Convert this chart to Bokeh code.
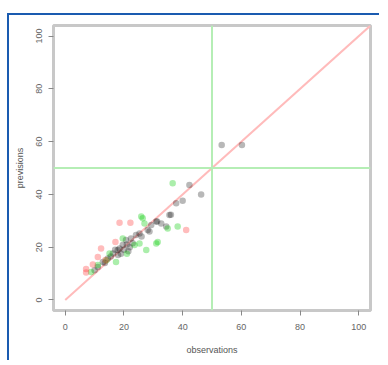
from bokeh.plotting import figure
from bokeh.models import Span, FixedTicker
from bokeh.embed import file_html
from bokeh.resources import INLINE

# Data
black_obs = [53.3, 60.2, 42.3, 46.3, 40.0, 37.8, 35.5, 36.0, 31.0, 28.1, 25.3, 22.4, 19.6, 17.9,
             16.2, 14.5, 12.8, 11.1, 10.0, 20.7, 24.1, 29.3, 32.7, 34.4, 28.7, 31.3, 18.5, 21.0,
             19.0, 23.0, 15.5, 17.0, 20.0, 22.0, 26.0, 13.5, 18.0, 21.5]
black_prev = [58.7, 58.7, 43.6, 40.0, 37.6, 36.6, 32.2, 32.3, 29.7, 26.5, 25.2, 23.3, 20.8, 18.9,
              17.6, 15.7, 14.4, 12.5, 11.3, 22.7, 24.6, 28.4, 29.0, 27.8, 25.9, 29.7, 19.5, 21.0,
              17.5, 21.5, 16.5, 19.0, 19.0, 20.0, 24.0, 14.0, 17.0, 18.5]
green_obs = [36.6, 25.9, 27.0, 19.6, 15.1, 11.1, 8.8, 27.6, 31.5, 34.9, 38.3, 17.3, 23.6, 25.3,
             31.0, 26.4, 21.0, 14.0]
green_prev = [44.2, 31.6, 29.0, 23.3, 17.6, 13.2, 10.6, 18.9, 22.0, 27.1, 27.8, 14.4, 20.8, 21.4,
              21.4, 31.0, 17.5, 15.0]
red_obs = [18.5, 22.2, 17.1, 12.2, 11.1, 9.4, 7.1, 7.1, 13.7, 41.2]
red_prev = [29.3, 29.3, 22.0, 19.5, 16.3, 13.4, 11.7, 10.4, 15.1, 26.5]
diag = [0, 104]
thresh = 50
ticks = [0, 20, 40, 60, 80, 100]

p = figure(width=372, height=347, x_range=(-4, 104), y_range=(-4, 104),
           output_backend="svg", toolbar_location=None,
           min_border_left=44, min_border_right=11, min_border_top=10, min_border_bottom=52)
p.margin = (13, 0, 0, 7)
p.styles = {"border-top": "2px solid #1a5bb0", "border-left": "2px solid #1a5bb0"}
p.grid.visible = False
p.outline_line_color = "#c8c8c8"
p.outline_line_width = 3
p.background_fill_color = "white"
p.border_fill_color = "white"

for ax in (p.xaxis[0], p.yaxis[0]):
    ax.ticker = FixedTicker(ticks=ticks)
    ax.axis_line_color = "#c8c8c8"
    ax.axis_line_width = 1
    ax.major_tick_line_color = "#888888"
    ax.major_tick_in = 0
    ax.major_tick_out = 5
    ax.minor_tick_line_color = None
    ax.major_label_text_font = "Liberation Sans"
    ax.major_label_text_font_size = "9px"
    ax.major_label_text_color = "#666666"
    ax.axis_label_text_font = "Liberation Sans"
    ax.axis_label_text_font_size = "9px"
    ax.axis_label_text_font_style = "normal"
    ax.axis_label_text_color = "#555555"

p.xaxis.axis_label = "observations"
p.yaxis.axis_label = "previsions"
p.xaxis.major_label_standoff = 8
p.xaxis.axis_label_standoff = 12
p.yaxis.major_label_orientation = "vertical"
p.yaxis.major_label_standoff = 6
p.yaxis.axis_label_standoff = 9

p.line(diag, diag, line_color="#ffbbbb", line_width=2)
p.add_layout(Span(location=thresh, dimension="height", line_color="#b5eeb5", line_width=2))
p.add_layout(Span(location=thresh, dimension="width", line_color="#b5eeb5", line_width=2))

p.scatter(black_obs, black_prev, size=6.5, fill_color="black", fill_alpha=0.28, line_color=None)
p.scatter(green_obs, green_prev, size=6.5, fill_color="#00cc00", fill_alpha=0.33, line_color=None)
p.scatter(red_obs, red_prev, size=6.5, fill_color="#ff3333", fill_alpha=0.33, line_color=None)

open("out.html", "w").write(file_html(p, INLINE))
